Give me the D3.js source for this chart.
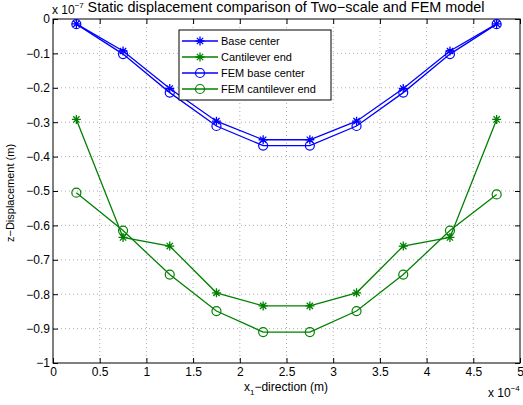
<!DOCTYPE html>
<html>
<head>
<meta charset="utf-8">
<script src="https://cdn.jsdelivr.net/npm/d3@7/dist/d3.min.js"></script>
<style>
  body { margin: 0; background: #fff; }
  svg { font-family: "Liberation Sans", Arial, sans-serif; }
</style>
</head>
<body>
<div id="chart"></div>
<script>
// x positions (units of 1e-4 m)
const xPos = [0.25, 0.75, 1.25, 1.75, 2.25, 2.75, 3.25, 3.75, 4.25, 4.75];

// displacements (units of 1e-7 m)
const baseCenter = [-0.014, -0.093, -0.202, -0.297, -0.351, -0.351, -0.297, -0.202, -0.093, -0.014];
const cantileverEnd = [-0.292, -0.635, -0.660, -0.796, -0.834, -0.834, -0.796, -0.660, -0.635, -0.292];
const femBaseCenter = [-0.015, -0.102, -0.214, -0.311, -0.368, -0.368, -0.311, -0.214, -0.102, -0.015];
const femCantileverEnd = [-0.505, -0.615, -0.743, -0.849, -0.910, -0.910, -0.849, -0.743, -0.615, -0.510];

const xTicks = [0, 0.5, 1, 1.5, 2, 2.5, 3, 3.5, 4, 4.5, 5];
const yTicks = [0, -0.1, -0.2, -0.3, -0.4, -0.5, -0.6, -0.7, -0.8, -0.9, -1];

const seriesNames = ["Base center", "Cantilever end", "FEM base center", "FEM cantilever end"];
const seriesData = [baseCenter, cantileverEnd, femBaseCenter, femCantileverEnd];
const seriesColors = ["#0000ff", "#008000", "#0000ff", "#008000"];
const seriesMarkers = ["star", "star", "circle", "circle"];

// svg size and plot box
const W = 523, H = 405;
const pl = 53, pr = 520, pt = 19, pb = 363;

const svg = d3.select("#chart").append("svg")
  .attr("width", W)
  .attr("height", H);

const xScale = d3.scaleLinear().domain([0, 5]).range([pl, pr]);
const yScale = d3.scaleLinear().domain([-1, 0]).range([pb, pt]);

const fmt = (d) => String(d).replace("-", "\u2212");

// grid lines
const grid = svg.append("g").attr("stroke", "#999").attr("stroke-width", 0.8)
  .attr("stroke-dasharray", "1,3");
xTicks.slice(1, -1).forEach((t) => {
  grid.append("line")
    .attr("x1", xScale(t)).attr("x2", xScale(t))
    .attr("y1", pt).attr("y2", pb);
});
yTicks.slice(1, -1).forEach((t) => {
  grid.append("line")
    .attr("x1", pl).attr("x2", pr)
    .attr("y1", yScale(t)).attr("y2", yScale(t));
});

// axes, ticks pointing inward
const xAxis = d3.axisBottom(xScale).tickValues(xTicks).tickSizeInner(-5).tickSizeOuter(0).tickPadding(4).tickFormat(fmt);
const yAxis = d3.axisLeft(yScale).tickValues(yTicks).tickSizeInner(-5).tickSizeOuter(0).tickPadding(3).tickFormat(fmt);
const xAxisTop = d3.axisTop(xScale).tickValues(xTicks).tickSizeInner(-5).tickSizeOuter(0).tickFormat("");
const yAxisRight = d3.axisRight(yScale).tickValues(yTicks).tickSizeInner(-5).tickSizeOuter(0).tickFormat("");

[
  [xAxis, `translate(0,${pb})`],
  [yAxis, `translate(${pl},0)`],
  [xAxisTop, `translate(0,${pt})`],
  [yAxisRight, `translate(${pr},0)`]
].forEach(([ax, tr]) => {
  const g = svg.append("g").attr("transform", tr).call(ax);
  g.select(".domain").remove();
  g.selectAll("line").attr("stroke", "#000");
  g.selectAll("text").attr("font-size", 12).attr("fill", "#000")
    .attr("font-family", "Liberation Sans, Arial, sans-serif");
});

// box
svg.append("rect")
  .attr("x", pl).attr("y", pt)
  .attr("width", pr - pl).attr("height", pb - pt)
  .attr("fill", "none").attr("stroke", "#000").attr("stroke-width", 1);

// markers
function drawMarker(g, type, cx, cy, color) {
  if (type === "circle") {
    g.append("circle").attr("cx", cx).attr("cy", cy).attr("r", 4.5)
      .attr("fill", "none").attr("stroke", color).attr("stroke-width", 1.2);
  } else {
    const r = 4.5, d = r * 0.7;
    const p = `M${cx - r},${cy}L${cx + r},${cy}M${cx},${cy - r}L${cx},${cy + r}` +
      `M${cx - d},${cy - d}L${cx + d},${cy + d}M${cx - d},${cy + d}L${cx + d},${cy - d}`;
    g.append("path").attr("d", p).attr("stroke", color).attr("stroke-width", 1.3).attr("fill", "none");
  }
}

const line = d3.line()
  .x((d) => xScale(d[0]))
  .y((d) => yScale(d[1]));

seriesData.forEach((vals, i) => {
  const pts = xPos.map((x, j) => [x, vals[j]]);
  const g = svg.append("g");
  g.append("path")
    .attr("d", line(pts))
    .attr("fill", "none")
    .attr("stroke", seriesColors[i])
    .attr("stroke-width", 1.3);
  pts.forEach((p) => drawMarker(g, seriesMarkers[i], xScale(p[0]), yScale(p[1]), seriesColors[i]));
});

// legend
const lg = svg.append("g");
lg.append("rect")
  .attr("x", 179).attr("y", 30).attr("width", 152).attr("height", 70)
  .attr("fill", "#fff").attr("stroke", "#000").attr("stroke-width", 1);
seriesNames.forEach((name, i) => {
  const y = 41 + i * 16;
  lg.append("line").attr("x1", 182).attr("x2", 218).attr("y1", y).attr("y2", y)
    .attr("stroke", seriesColors[i]).attr("stroke-width", 1.3);
  drawMarker(lg, seriesMarkers[i], 200, y, seriesColors[i]);
  lg.append("text").attr("x", 221).attr("y", y + 4).attr("font-size", 11).text(name);
});

// title
svg.append("text")
  .attr("x", 286).attr("y", 12)
  .attr("text-anchor", "middle").attr("font-size", 14.4)
  .text("Static displacement comparison of Two\u2212scale and FEM model");

// exponent labels
const ey = svg.append("text").attr("x", 52).attr("y", 14).attr("font-size", 12);
ey.append("tspan").text("x 10");
ey.append("tspan").attr("dy", -6).attr("font-size", 8).text("\u22127");

const ex = svg.append("text").attr("x", 488).attr("y", 397).attr("font-size", 12);
ex.append("tspan").text("x 10");
ex.append("tspan").attr("dy", -6).attr("font-size", 8).text("\u22124");

// axis labels
const xl = svg.append("text")
  .attr("x", 286).attr("y", 391)
  .attr("text-anchor", "middle").attr("font-size", 12);
xl.append("tspan").text("x");
xl.append("tspan").attr("dy", 4).attr("font-size", 8).text("1");
xl.append("tspan").attr("dy", -4).text("\u2212direction (m)");

svg.append("text")
  .attr("transform", `translate(14,193) rotate(-90)`)
  .attr("text-anchor", "middle").attr("font-size", 11)
  .text("z\u2212Displacement (m)");
</script>
</body>
</html>
